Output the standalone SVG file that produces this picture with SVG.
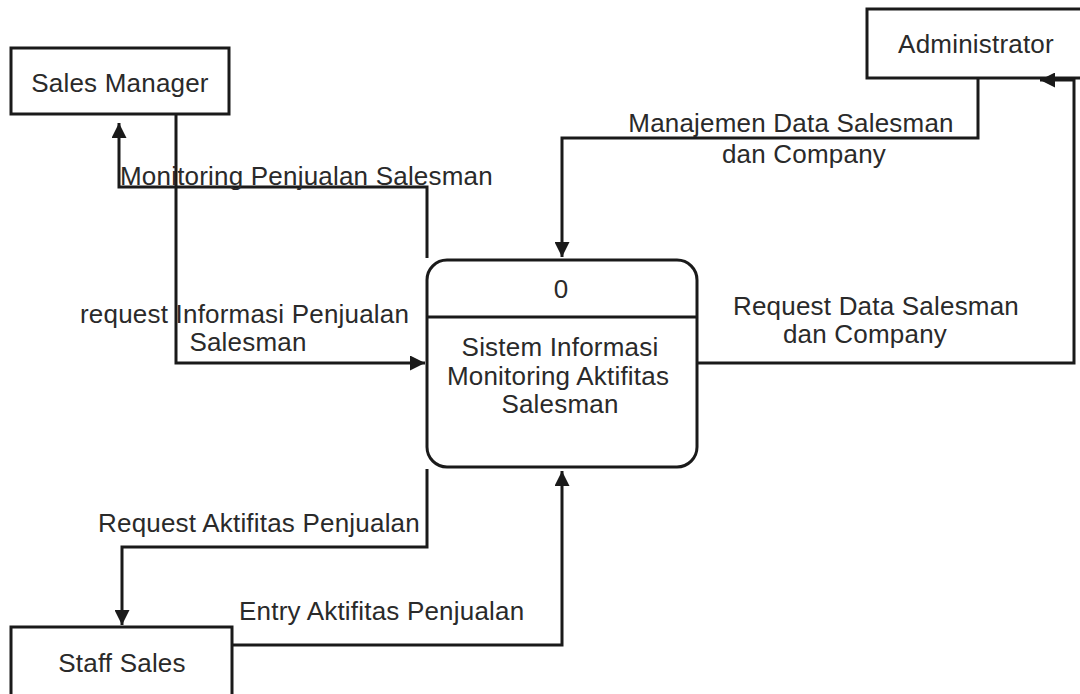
<svg xmlns="http://www.w3.org/2000/svg" width="1080" height="694" viewBox="0 0 1080 694">
<style>
.box{fill:#fff;stroke:#1a1a1a;stroke-width:3}
.ln{fill:none;stroke:#1a1a1a;stroke-width:3;stroke-linejoin:miter}
.t{font-family:"Liberation Sans",Arial,sans-serif;font-size:26px;letter-spacing:0.2px;fill:#2a2a2a}
.m{text-anchor:middle}
</style>
<defs>
<marker id="arr" viewBox="0 0 10 10" refX="10" refY="5" markerWidth="5" markerHeight="5" orient="auto" markerUnits="strokeWidth">
<path d="M0,0 L10,5 L0,10 Z" fill="#1a1a1a"/>
</marker>
</defs>
<rect width="1080" height="694" fill="#fff"/>
<g id="sales-manager">
<rect class="box" x="11" y="48" width="218" height="66"/>
<text class="t m" x="120" y="92">Sales Manager</text>
</g>
<g id="administrator">
<rect class="box" x="867" y="9" width="220" height="69"/>
<text class="t m" x="976" y="53">Administrator</text>
</g>
<g id="staff-sales">
<rect class="box" x="11" y="627" width="221" height="80"/>
<text class="t m" x="122" y="672">Staff Sales</text>
</g>
<g id="process-0">
<rect class="box" x="427" y="260" width="270" height="207" rx="20" ry="20"/>
<line class="ln" x1="427" y1="317" x2="697" y2="317"/>
<text class="t m" x="561" y="298">0</text>
<text class="t m" x="560" y="356">Sistem Informasi</text>
<text class="t m" x="558" y="385">Monitoring Aktifitas</text>
<text class="t m" x="560" y="413">Salesman</text>
</g>
<g id="connectors">
<path class="ln" d="M427,258 V187 H119 V123" marker-end="url(#arr)"/>
<path class="ln" d="M176,115 V363 H425" marker-end="url(#arr)"/>
<path class="ln" d="M978,78 V138 H562 V257" marker-end="url(#arr)"/>
<path class="ln" d="M697,363 H1074 V80 H1040" marker-end="url(#arr)"/>
<path class="ln" d="M427,469 V547 H122 V625" marker-end="url(#arr)"/>
<path class="ln" d="M232,645 H562 V471" marker-end="url(#arr)"/>
<text class="t" x="120" y="185">Monitoring Penjualan Salesman</text>
<text class="t" x="80" y="323">request Informasi Penjualan</text>
<text class="t m" x="248" y="351">Salesman</text>
<text class="t m" x="791" y="132">Manajemen Data Salesman</text>
<text class="t m" x="804" y="163">dan Company</text>
<text class="t m" x="876" y="315">Request Data Salesman</text>
<text class="t m" x="865" y="343">dan Company</text>
<text class="t" x="98" y="532">Request Aktifitas Penjualan</text>
<text class="t" x="239" y="620">Entry Aktifitas Penjualan</text>
</g>
</svg>
